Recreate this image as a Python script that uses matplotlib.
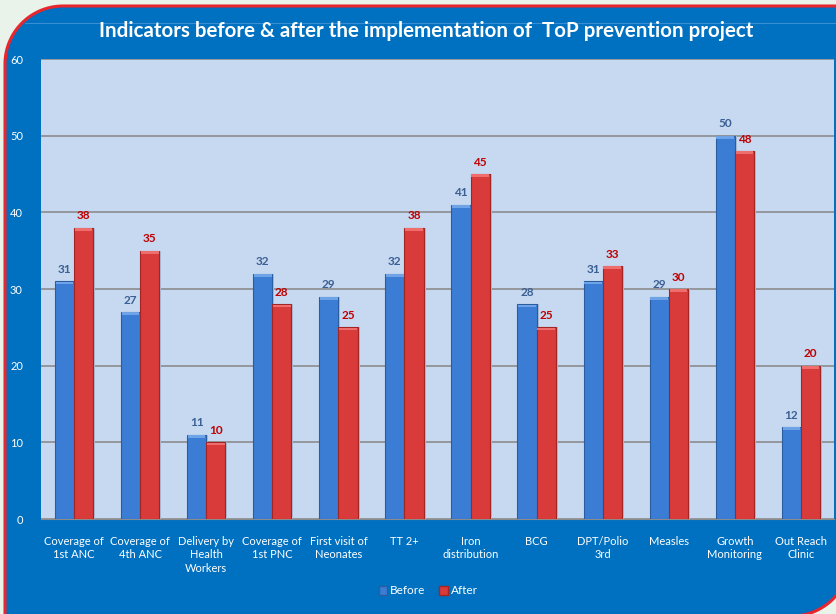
import numpy as np
import matplotlib.pyplot as plt
from matplotlib.patches import PathPatch, Rectangle
from matplotlib.path import Path

# data
categories = ["Coverage of\n1st ANC", "Coverage of\n4th ANC", "Delivery by\nHealth\nWorkers",
              "Coverage of\n1st PNC", "First visit of\nNeonates", "TT 2+", "Iron\ndistribution",
              "BCG", "DPT/Polio\n3rd", "Measles", "Growth\nMonitoring", "Out Reach\nClinic"]
before = [31, 27, 11, 32, 29, 32, 41, 28, 31, 29, 50, 12]
after = [38, 35, 10, 28, 25, 38, 45, 25, 33, 30, 48, 20]
title = "Indicators before & after the implementation of  ToP prevention project"

W, H = 836, 614
plt.rcParams['font.family'] = ['Lato', 'DejaVu Sans']

fig = plt.figure(figsize=(W / 100, H / 100), dpi=100)
fig.patch.set_facecolor('#eaf3ea')

# background panel (pixel coordinates), rounded top-left and bottom-right
bg = fig.add_axes([0, 0, 1, 1])
bg.set_xlim(0, W)
bg.set_ylim(H, 0)
bg.axis('off')


def arc(cx, cy, r, a0, a1, n=30):
    t = np.radians(np.linspace(a0, a1, n))
    return list(zip(cx + r * np.cos(t), cy + r * np.sin(t)))


r = 58
x0, y0, x1, y1 = 5, 6, 850, 616
verts = [(x0, y1 + 20)] + arc(x0 + r, y0 + r, r, 180, 270) + [(x1 + 20, y0)] \
    + [(x1, y0)] + arc(x1 - r, y1 - r, r, 0, 90) + [(x0, y1 + 20)]
panel = PathPatch(Path(verts), facecolor='#0070c0', edgecolor='#e8262e', linewidth=2.2)
bg.add_patch(panel)
bg.plot([25, W], [23, 23], color='#3a8fd4', lw=0.8)
bg.text(426, 31, title, color='white', fontsize=14.8, fontweight='bold',
        ha='center', va='center')

# plot area
left, right, top, bottom = 41, 834, 59, 519
ax = fig.add_axes([left / W, (H - bottom) / H, (right - left) / W, (bottom - top) / H])
ax.set_facecolor('#c6d9f1')
for s in ax.spines.values():
    s.set_visible(False)
ax.spines['bottom'].set_visible(True)
ax.spines['bottom'].set_color('#8c8c8c')

x = np.arange(len(categories))
bw = 0.29
ax.set_xlim(-0.5, len(categories) - 0.5)
ax.set_ylim(0, 60)
ax.set_yticks(range(0, 61, 10))
ax.yaxis.grid(True, color='#8c8c8c', lw=1.2)
ax.set_axisbelow(True)

# soft shadows behind bars
ax.bar(x - bw / 2 + 0.03, before, bw, color='#a9bcd6', zorder=2)
ax.bar(x + bw / 2 + 0.03, after, bw, color='#a9bcd6', zorder=2)
ax.bar(x - bw / 2, before, bw, color='#3b7dd4', edgecolor='#2a5d9f', lw=0.8, zorder=3)
ax.bar(x + bw / 2, after, bw, color='#d93a3a', edgecolor='#a32424', lw=0.8, zorder=3)
# light top bevel
ax.bar(x - bw / 2, [0.35] * len(x), bw * 0.92, bottom=np.array(before) - 0.4, color='#6fa3e8', zorder=4)
ax.bar(x + bw / 2, [0.35] * len(x), bw * 0.92, bottom=np.array(after) - 0.4, color='#ee6d6d', zorder=4)

for i in x:
    ax.annotate(str(before[i]), (i - bw / 2, before[i]), xytext=(0, 4.5), textcoords='offset points',
                ha='center', va='bottom', color='#3b5f93', fontsize=8.5, fontweight='bold')
    ax.annotate(str(after[i]), (i + bw / 2, after[i]), xytext=(0, 4.5), textcoords='offset points',
                ha='center', va='bottom', color='#c00000', fontsize=8.5, fontweight='bold')

ax.set_xticks(x)
ax.set_xticklabels(categories, color='white', fontsize=8, linespacing=1.3, va='top')
ax.tick_params(axis='x', length=0, pad=12)
ax.tick_params(axis='y', length=0, colors='white', labelsize=8, pad=13)

# legend
h1 = Rectangle((0, 0), 1, 1, facecolor='#3b7dd4', edgecolor='#2a5d9f')
h2 = Rectangle((0, 0), 1, 1, facecolor='#d93a3a', edgecolor='#a32424')
leg = fig.legend([h1, h2], ["Before", "After"], loc='center', bbox_to_anchor=(428 / W, 1 - 591 / H),
                 ncol=2, frameon=False, fontsize=8.5, handlelength=0.75, handleheight=0.75,
                 handletextpad=0.2, columnspacing=1.2)
for t in leg.get_texts():
    t.set_color('white')

fig.savefig('out.png', dpi=100, facecolor=fig.get_facecolor())
